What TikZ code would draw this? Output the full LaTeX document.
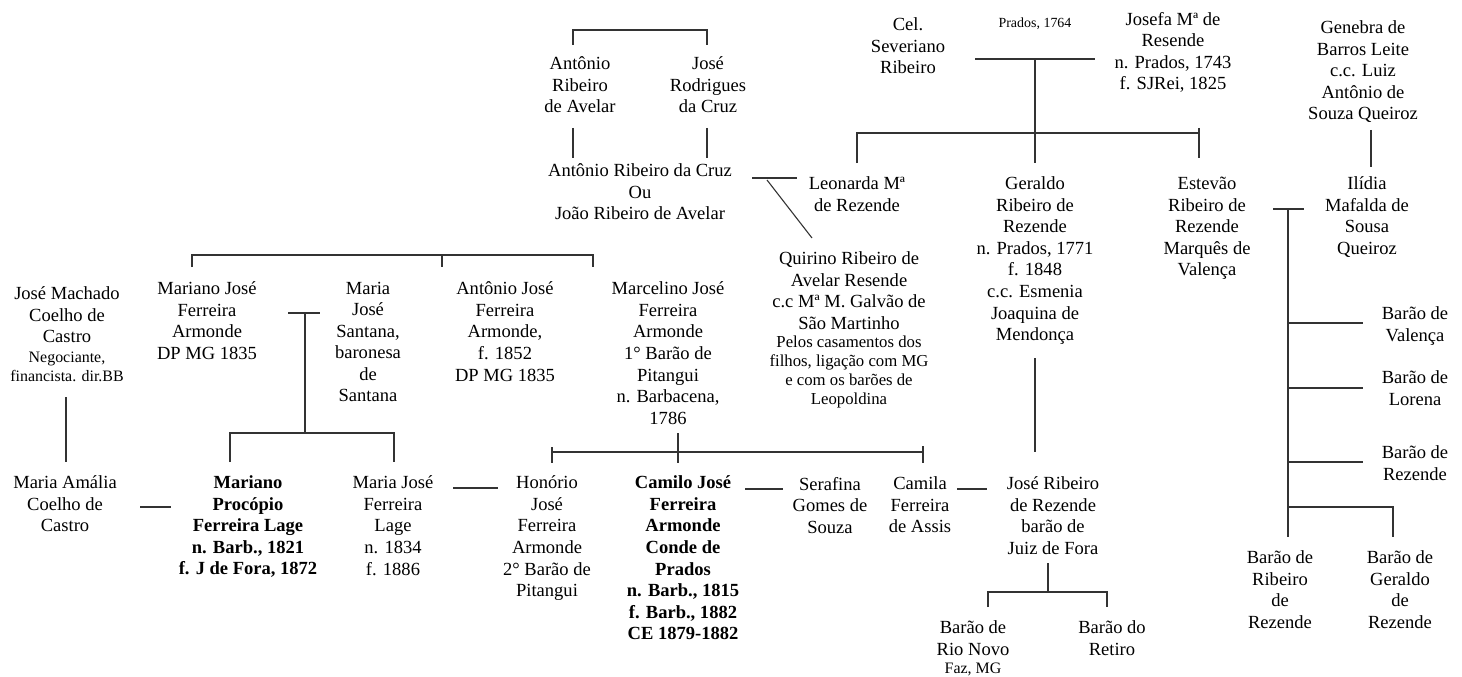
\documentclass[tikz,border=0pt]{standalone}
\usepackage{fontspec}
\setmainfont{Liberation Serif}
\begin{document}
\begin{tikzpicture}[x=1bp, y=-1bp, line width=1.1bp]
    \tikzset{person/.style={%
      align=center,%
      inner sep=0pt,%
      anchor=north,%
      yshift=6.5bp,%
      font=\fontsize{18.6}{21.6}\selectfont}%
    };
\tikzset{boldperson/.style={person, font=\fontsize{18.6}{21.6}\selectfont\bfseries}};
\tikzset{note/.style={person, font=\fontsize{16.8}{19}\selectfont}};
\tikzset{link/.style={draw=black!80}};

\useasboundingbox (0,0) rectangle (1462,677);

%upper generations
\node[person] (antonioAvelar) at (580,63) {Antônio\\Ribeiro\\de Avelar};
\node[person] (joseRodrigues) at (708,63) {José\\Rodrigues\\da Cruz};
\node[person] (antonioCruz) at (640,170) {Antônio Ribeiro da Cruz\\Ou\\João Ribeiro de Avelar};
\node[person] (leonarda) at (857,183) {Leonarda Mª\\de Rezende};
\node[person] (quirino) at (849,258) {Quirino Ribeiro de\\Avelar Resende\\c.c Mª M. Galvão de\\São Martinho};
\node[note] (quirinoNote) at (849,342) {Pelos casamentos dos\\filhos, ligação com MG\\e com os barões de\\Leopoldina};

\node[person] (severiano) at (908,24) {Cel.\\Severiano\\Ribeiro};
\node[person, font=\fontsize{14}{16}\selectfont] (pradosDate) at (1035,24) {Prados, 1764};
\node[person] (josefa) at (1173,18) {Josefa Mª de\\Resende\\n. Prados, 1743\\f. SJRei, 1825};
\node[person] (geraldo) at (1035,183) {Geraldo\\Ribeiro de\\Rezende\\n. Prados, 1771\\f. 1848\\c.c. Esmenia\\Joaquina de\\Mendonça};
\node[person] (estevao) at (1207,183) {Estevão\\Ribeiro de\\Rezende\\Marquês de\\Valença};

\node[person] (genebra) at (1363,27) {Genebra de\\Barros Leite\\c.c. Luiz\\Antônio de\\Souza Queiroz};
\node[person] (ilidia) at (1367,183) {Ilídia\\Mafalda de\\Sousa\\Queiroz};
\node[person] (baraoValenca) at (1415,313) {Barão de\\Valença};
\node[person] (baraoLorena) at (1415,377) {Barão de\\Lorena};
\node[person] (baraoRezende) at (1415,452) {Barão de\\Rezende};
\node[person] (baraoRibeiro) at (1280,557) {Barão de\\Ribeiro\\de\\Rezende};
\node[person] (baraoGeraldo) at (1400,557) {Barão de\\Geraldo\\de\\Rezende};

%middle row
\node[person] (joseMachado) at (67,293) {José Machado\\Coelho de\\Castro};
\node[note, font=\fontsize{16}{19}\selectfont] (joseMachadoNote) at (67,358) {Negociante,\\financista. dir.BB};
\node[person] (marianoJose) at (207,288) {Mariano José\\Ferreira\\Armonde\\DP MG 1835};
\node[person] (mariaSantana) at (368,288) {Maria\\José\\Santana,\\baronesa\\de\\Santana};
\node[person] (antonioJose) at (505,288) {Antônio José\\Ferreira\\Armonde,\\f. 1852\\DP MG 1835};
\node[person] (marcelino) at (668,288) {Marcelino José\\Ferreira\\Armonde\\1° Barão de\\Pitangui\\n. Barbacena,\\1786};

%bottom row
\node[person] (mariaAmalia) at (65,482) {Maria Amália\\Coelho de\\Castro};
\node[boldperson] (marianoProcopio) at (248,482) {Mariano\\Procópio\\Ferreira Lage\\n. Barb., 1821\\f. J de Fora, 1872};
\node[person] (mariaLage) at (393,482) {Maria José\\Ferreira\\Lage\\n. 1834\\f. 1886};
\node[person] (honorio) at (547,482) {Honório\\José\\Ferreira\\Armonde\\2° Barão de\\Pitangui};
\node[boldperson] (camilo) at (683,482) {Camilo José\\Ferreira\\Armonde\\Conde de\\Prados\\n. Barb., 1815\\f. Barb., 1882\\CE 1879-1882};
\node[person] (serafina) at (830,483) {Serafina\\Gomes de\\Souza};
\node[person] (camila) at (920,483) {Camila\\Ferreira\\de Assis};
\node[person] (joseRibeiro) at (1053,483) {José Ribeiro\\de Rezende\\barão de\\Juiz de Fora};
\node[person] (baraoRioNovo) at (973,627) {Barão de\\Rio Novo};
\node[note, font=\fontsize{16}{19}\selectfont] (rioNovoNote) at (973,669) {Faz, MG};
\node[person] (baraoRetiro) at (1112,627) {Barão do\\Retiro};

%Avelar and Rodrigues
\coordinate (avelarUp) at (573,45);
\coordinate (avelarTop) at (573,30);
\coordinate (rodriguesUp) at (707,45);
\draw[link] (avelarUp) -- (avelarTop) -| (rodriguesUp);
\coordinate (avelarDown) at (573,128);
\coordinate (cruzLeft) at (573,158);
\coordinate (rodriguesDown) at (707,128);
\coordinate (cruzRight) at (707,158);
\draw[link] (avelarDown) -- (cruzLeft);
\draw[link] (rodriguesDown) -- (cruzRight);

%Antonio da Cruz and Leonarda
\coordinate (cruzMarriage) at (752,178);
\coordinate (leonardaMarriage) at (797,178);
\coordinate (quirinoFrom) at (767,180);
\coordinate (quirinoTo) at (812,238);
\draw[link] (cruzMarriage) -- (leonardaMarriage);
\draw[link] (quirinoFrom) -- (quirinoTo);

%children of Antonio da Cruz
\coordinate (marianoTick) at (192,267);
\coordinate (cruzBarLeft) at (192,255);
\coordinate (cruzBarRight) at (593,255);
\coordinate (marcelinoTick) at (593,267);
\coordinate (antonioBar) at (442,255);
\coordinate (antonioTick) at (442,267);
\draw[link] (marianoTick) -- (cruzBarLeft) -- (cruzBarRight) -- (marcelinoTick);
\draw[link] (antonioBar) -- (antonioTick);

%Severiano and Josefa
\coordinate (severianoMarriage) at (975,59);
\coordinate (josefaMarriage) at (1095,59);
\coordinate (severianoChild) at (1035,59);
\coordinate (geraldoUp) at (1035,163);
\draw[link] (severianoMarriage) -- (josefaMarriage);
\draw[link] (severianoChild) -- (geraldoUp);
\coordinate (leonardaUp) at (857,163);
\coordinate (leonardaBar) at (857,133);
\coordinate (estevaoBar) at (1199,133);
\coordinate (estevaoTick) at (1199,128);
\coordinate (estevaoUp) at (1199,158);
\draw[link] (leonardaUp) -- (leonardaBar) -- (estevaoBar);
\draw[link] (estevaoTick) -- (estevaoUp);

%Genebra and Ilidia
\coordinate (genebraDown) at (1371,130);
\coordinate (ilidiaUp) at (1371,167);
\draw[link] (genebraDown) -- (ilidiaUp);
\coordinate (ilidiaLeft) at (1273,209);
\coordinate (ilidiaRight) at (1304,209);
\coordinate (ilidiaStem) at (1288,209);
\coordinate (ribeiroUp) at (1288,537);
\draw[link] (ilidiaLeft) -- (ilidiaRight);
\draw[link] (ilidiaStem) -- (ribeiroUp);
\foreach \y/\name in {323/valenca, 388/lorena, 462/rezende} {
  \coordinate (\name Branch) at (1288,\y);
  \coordinate (\name End) at (1363,\y);
  \draw[link] (\name Branch) -- (\name End);
}
\coordinate (geraldoBranch) at (1288,507);
\coordinate (geraldoUp2) at (1393,537);
\draw[link] (geraldoBranch) -| (geraldoUp2);

%Mariano Jose and Maria Santana
\coordinate (marianoMarriage) at (288,313);
\coordinate (santanaMarriage) at (320,313);
\coordinate (santanaChild) at (305,313);
\coordinate (santanaBar) at (305,433);
\coordinate (procopioUp) at (230,462);
\coordinate (lageUp) at (394,462);
\draw[link] (marianoMarriage) -- (santanaMarriage);
\draw[link] (santanaChild) -- (santanaBar);
\draw[link] (procopioUp) |- (santanaBar) -| (lageUp);

%Jose Machado
\coordinate (machadoDown) at (66,397);
\coordinate (amaliaUp) at (66,462);
\draw[link] (machadoDown) -- (amaliaUp);

%marriages in the bottom row
\coordinate (amaliaMarriage) at (140,507);
\coordinate (procopioMarriage) at (171,507);
\draw[link] (amaliaMarriage) -- (procopioMarriage);
\coordinate (lageMarriage) at (453,488);
\coordinate (honorioMarriage) at (498,488);
\draw[link] (lageMarriage) -- (honorioMarriage);
\coordinate (camiloMarriage) at (745,489);
\coordinate (serafinaMarriage) at (783,489);
\draw[link] (camiloMarriage) -- (serafinaMarriage);
\coordinate (camilaMarriage) at (957,489);
\coordinate (ribeiroMarriage) at (987,489);
\draw[link] (camilaMarriage) -- (ribeiroMarriage);

%children of Marcelino
\coordinate (marcelinoDown) at (678,433);
\coordinate (camiloUp) at (678,463);
\draw[link] (marcelinoDown) -- (camiloUp);
\coordinate (honorioBar) at (552,452);
\coordinate (camilaBar) at (923,452);
\draw[link] (honorioBar) -- (camilaBar);
\coordinate (honorioTick) at (552,447);
\coordinate (honorioUp) at (552,463);
\coordinate (camilaTick) at (923,446);
\coordinate (camilaUp) at (923,463);
\draw[link] (honorioTick) -- (honorioUp);
\draw[link] (camilaTick) -- (camilaUp);

%Geraldo and Jose Ribeiro
\coordinate (geraldoDown) at (1035,358);
\coordinate (joseRibeiroUp) at (1035,452);
\draw[link] (geraldoDown) -- (joseRibeiroUp);
\coordinate (joseRibeiroDown) at (1048,563);
\coordinate (joseRibeiroBar) at (1048,592);
\coordinate (rioNovoUp) at (988,607);
\coordinate (retiroUp) at (1107,607);
\draw[link] (joseRibeiroDown) -- (joseRibeiroBar);
\draw[link] (rioNovoUp) |- (joseRibeiroBar) -| (retiroUp);

\end{tikzpicture}
\end{document}
